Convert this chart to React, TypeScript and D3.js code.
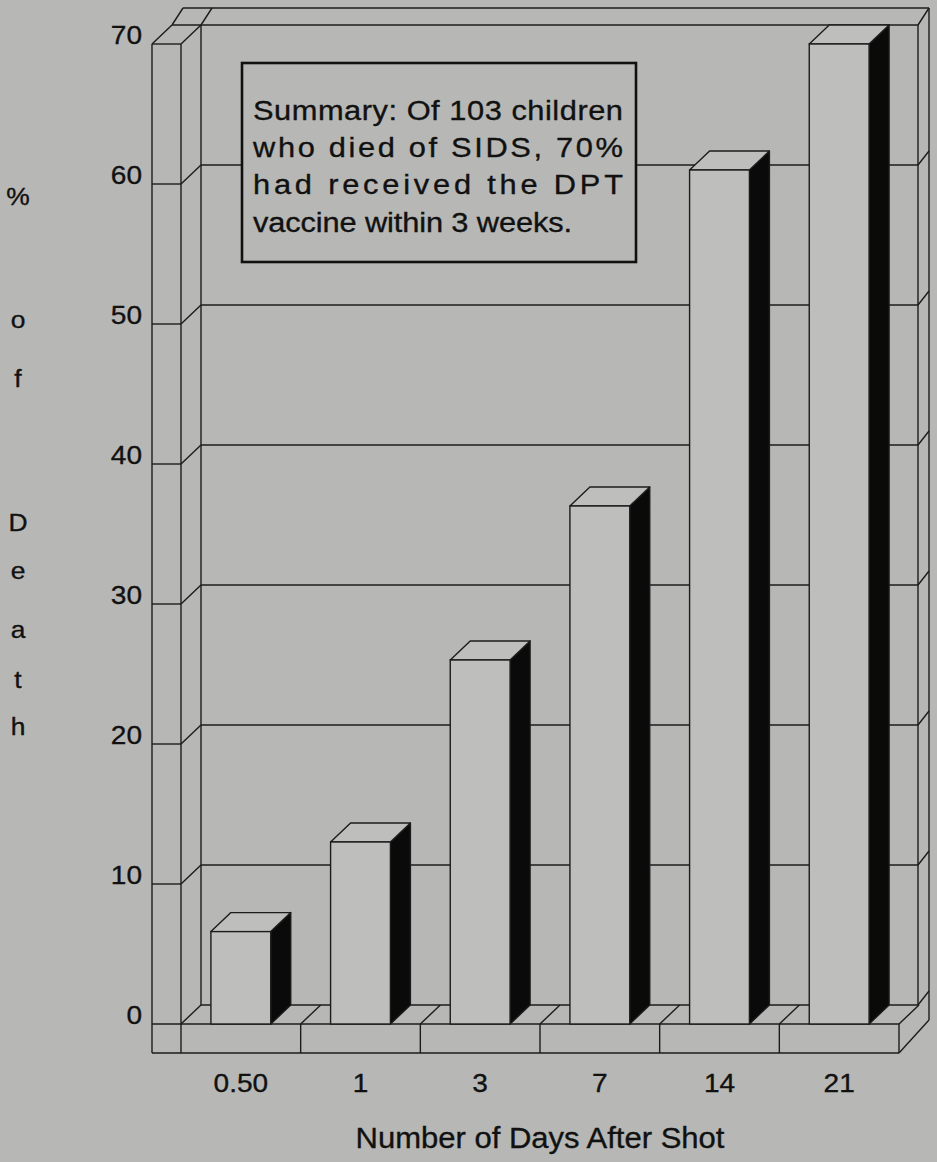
import React from "react";
import * as d3 from "d3";

const categories = ["0.50", "1", "3", "7", "14", "21"];
const values = [6.6, 13, 26, 37, 61, 70];
const yTicks = [0, 10, 20, 30, 40, 50, 60, 70];
const yTitleChars = ["%", "o", "f", "D", "e", "a", "t", "h"];
const xTitle = "Number of Days After Shot";
const summaryLines = [
  "Summary: Of 103 children",
  "who died of SIDS, 70%",
  "had received the DPT",
  "vaccine within 3 weeks.",
];

export default function App() {
  const W = 937, H = 1162;
  const BG = "#b7b8b5";
  const FACE = "#bebfbc";
  const INK = "#1c1c1c";
  const FONT = "'Liberation Sans', Arial, Helvetica, sans-serif";
  const DX = 20, DY = -19;
  const y = d3.scaleLinear().domain([0, 70]).range([1024, 44]);
  const x = d3.scaleBand<string>().domain(categories).range([181, 899]);
  const bw = x.bandwidth();
  const barW = bw * 0.5;
  const wallL = 152, wallR = 181;
  const backL = wallR + DX, backR = 918, sideR = 929;
  const SDX = 11, SDY = -14;
  const floorBottom = 1053;
  const y0 = y(0), yTop = y(70);
  const sw = 1.4;
  const SX = 1.1;
  const yTitleY = [197, 320, 379, 523, 571, 630, 680, 727];

  const ln = (x1: number, y1: number, x2: number, y2: number, k: string) => (
    <line key={k} x1={x1} y1={y1} x2={x2} y2={y2} stroke={INK} strokeWidth={sw} />
  );

  const lines: JSX.Element[] = [];
  lines.push(ln(wallL, yTop, wallL, floorBottom, "v1"));
  lines.push(ln(wallR, yTop, wallR, floorBottom, "v2"));
  lines.push(ln(backL, yTop + DY, backL, y0 + DY, "v3"));
  lines.push(ln(backR, yTop + DY, backR, y0 + DY, "v4"));
  lines.push(ln(sideR, 8, sideR, 1020, "v5"));
  lines.push(ln(wallL, yTop, wallR, yTop, "t1"));
  lines.push(ln(wallL, yTop, wallL + DX, yTop + DY, "t2"));
  lines.push(ln(wallL + DX, yTop + DY, wallL + DX + SDX, 8, "t3"));
  lines.push(ln(wallR, yTop, backL, yTop + DY, "t4"));
  lines.push(ln(backL, yTop + DY, backL + SDX, 8, "t5"));
  lines.push(ln(wallL + DX, yTop + DY, backR, yTop + DY, "t6"));
  lines.push(ln(wallL + DX + SDX, 8, sideR, 8, "t7"));
  lines.push(ln(backR, yTop + DY, sideR, 8, "t8"));
  yTicks.filter((v) => v > 0 && v < 70).forEach((v) => {
    const yf = y(v), yb = y(v) + DY;
    lines.push(ln(wallL, yf, wallR, yf, `g1-${v}`));
    lines.push(ln(wallR, yf, backL, yb, `g2-${v}`));
    lines.push(ln(backL, yb, backR, yb, `g3-${v}`));
    lines.push(ln(backR, yb, sideR, yb + SDY, `g4-${v}`));
  });
  lines.push(ln(wallL, y0, 899, y0, "f1"));
  lines.push(ln(wallL, floorBottom, 899, floorBottom, "f2"));
  lines.push(ln(backL, y0 + DY, backR, y0 + DY, "f3"));
  lines.push(ln(wallR, y0, backL, y0 + DY, "f4"));
  lines.push(ln(backR, y0 + DY, sideR, y0 + DY + SDY, "f5"));
  lines.push(ln(899, floorBottom, sideR, 1020, "f6"));
  categories.forEach((c) => {
    const xe = (x(c) as number) + bw;
    lines.push(ln(xe, y0, xe, floorBottom, `fd-${c}`));
    lines.push(ln(xe, y0, xe + DX, y0 + DY, `fg-${c}`));
  });

  const bars = categories.map((c, i) => {
    const v = values[i];
    const cx = (x(c) as number) + bw / 2;
    const x0 = cx - barW / 2, x1 = cx + barW / 2;
    const yt = y(v);
    return (
      <g key={c}>
        <polygon
          points={`${x1},${yt} ${x1 + DX},${yt + DY} ${x1 + DX},${y0 + DY} ${x1},${y0}`}
          fill="#0a0a0a" stroke={INK} strokeWidth={sw} strokeLinejoin="round"
        />
        <polygon
          points={`${x0},${yt} ${x0 + DX},${yt + DY} ${x1 + DX},${yt + DY} ${x1},${yt}`}
          fill={FACE} stroke={INK} strokeWidth={sw} strokeLinejoin="round"
        />
        <rect x={x0} y={yt} width={barW} height={y0 - yt} fill={FACE} stroke={INK} strokeWidth={sw} />
      </g>
    );
  });

  const txt = (s: string, tx: number, ty: number, size: number, anchor: string, k: string, sx = SX, extra: any = {}) => (
    <text
      key={k}
      transform={`translate(${tx},${ty}) scale(${sx},1)`}
      fontSize={size}
      fontFamily={FONT}
      textAnchor={anchor}
      fill="#111"
      stroke="#111"
      strokeWidth={0.35}
      {...extra}
    >
      {s}
    </text>
  );

  const box = { x: 242, y: 63, w: 394, h: 199 };
  const sumBase = [120, 157, 194, 232];
  const sumLen = [370, 370, 370, 319];

  return (
    <svg width={W} height={H} style={{ position: "absolute", left: 0, top: 0, display: "block" }}>
      <rect x={0} y={0} width={W} height={H} fill={BG} />
      <g>{lines}</g>
      <g>{bars}</g>
      <rect x={box.x} y={box.y} width={box.w} height={box.h} fill={BG} stroke="#111" strokeWidth={2.6} />
      {summaryLines.map((s, i) =>
        txt(s, 253, sumBase[i], 28, "start", `s${i}`, SX, {
          textLength: sumLen[i] / SX,
          lengthAdjust: "spacing",
        })
      )}
      {yTicks.map((v) => txt(String(v), 142, y(v) + DY / 2 + 9, 25.5, "end", `yt${v}`))}
      {categories.map((c) => txt(c, (x(c) as number) + bw / 2, 1092, 25.5, "middle", `xt${c}`))}
      {txt(xTitle, 540, 1148, 29, "middle", "xtitle", 1.07)}
      {yTitleChars.map((ch, i) => txt(ch, 18, yTitleY[i] + 8, 24, "middle", `yc${i}`))}
    </svg>
  );
}
